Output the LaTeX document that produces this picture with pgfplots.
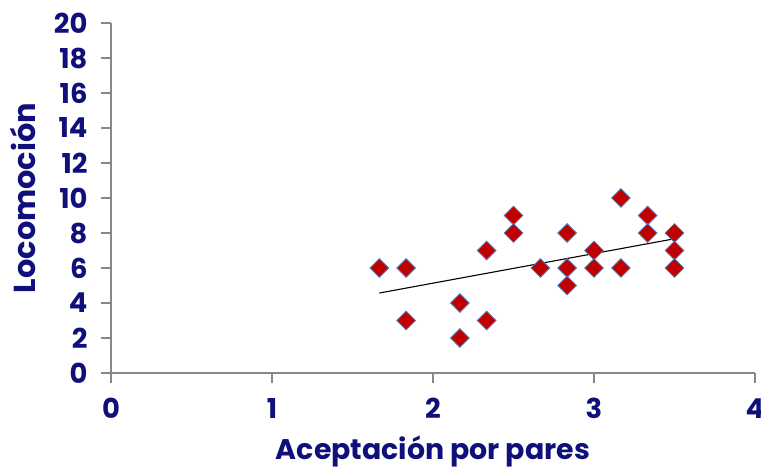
\documentclass[border=0pt]{standalone}
\usepackage{pgfplots}
\pgfplotsset{compat=1.18}
\usepackage{fontspec}
\setmainfont{Poppins}
\definecolor{navy}{HTML}{10107A}
\definecolor{axgray}{HTML}{888888}
\definecolor{mred}{HTML}{C00000}
\definecolor{medge}{HTML}{4F81BD}
\begin{document}
\begin{tikzpicture}[x=1bp,y=1bp]
\begin{axis}[
  at={(0,0)}, anchor=south west,
  scale only axis, width=644bp, height=350bp,
  xmin=0, xmax=4, ymin=0, ymax=20,
  xtick={0,1,2,3,4}, ytick={0,2,...,20},
  axis x line*=bottom, axis y line*=left,
  axis line style={axgray, line width=1.3bp, -},
  tick style={axgray, line width=1.3bp},
  tick align=outside, major tick length=10bp,
  /pgf/number format/assume math mode=true,
  ticklabel style={font=\fontsize{27.5}{30}\selectfont\bfseries, text=navy},
  yticklabel style={xshift=-10bp},
  xticklabel style={yshift=-12bp},
  xlabel={Aceptación por pares},
  ylabel={Locomoción},
  label style={font=\fontsize{29}{31}\selectfont\bfseries, text=navy},
  xlabel style={at={(axis description cs:0.5,0)}, anchor=center, yshift=-78bp,
    font=\fontsize{28.5}{31}\selectfont\bfseries, inner sep=1bp},
  ylabel style={at={(axis description cs:-0.137,0.5)}, anchor=center,
    font=\fontsize{30.5}{32}\selectfont\bfseries},
  clip=false,
]
\addplot[only marks, mark=square*, mark size=6.6bp,
  mark options={rotate=45, fill=mred, draw=medge, line width=0.8bp}]
  coordinates {
  (1.667,6) (1.833,6) (1.833,3) (2.167,4) (2.167,2) (2.333,7) (2.333,3)
  (2.5,9) (2.5,8) (2.667,6) (2.833,8) (2.833,6) (2.833,5) (3.0,7) (3.0,6)
  (3.167,10) (3.167,6) (3.333,9) (3.333,8) (3.5,8) (3.5,7) (3.5,6)
  };
\addplot[black, line width=1.1bp] coordinates {(1.667,4.57) (3.5,7.67)};
\end{axis}
\pgfresetboundingbox
\useasboundingbox (-111,-97) rectangle (650,373);
\end{tikzpicture}
\end{document}
